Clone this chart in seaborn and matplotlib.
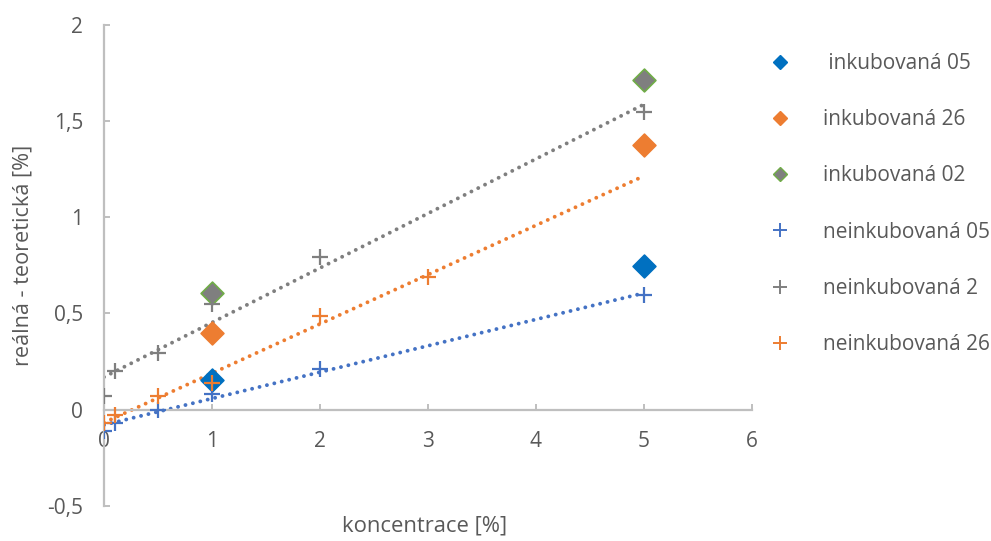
import numpy as np
import pandas as pd
import matplotlib
matplotlib.use("Agg")
import matplotlib.pyplot as plt
from matplotlib.lines import Line2D
import seaborn as sns

# ---- data ----
inc05_x = [1, 5]
inc05_y = [0.155, 0.745]
inc26_x = [1, 5]
inc26_y = [0.40, 1.375]
inc02_x = [1, 5]
inc02_y = [0.605, 1.715]

ninc05_x = [0, 0.1, 0.5, 1, 2, 5]
ninc05_y = [-0.11, -0.07, 0.0, 0.08, 0.21, 0.595]
ninc2_x = [0, 0.1, 0.5, 1, 2, 5]
ninc2_y = [0.07, 0.20, 0.295, 0.55, 0.795, 1.545]
ninc26_x = [0, 0.1, 0.5, 1, 2, 3]
ninc26_y = [-0.07, -0.025, 0.07, 0.14, 0.485, 0.69]

labels = [" inkubovaná 05", "inkubovaná 26", "inkubovaná 02",
          "neinkubovaná 05", "neinkubovaná 2", "neinkubovaná 26"]
x_ticks = [0, 1, 2, 3, 4, 5, 6]
y_ticks = [-0.5, 0, 0.5, 1, 1.5, 2]
y_tick_labels = ["-0,5", "0", "0,5", "1", "1,5", "2"]
x_label = "koncentrace [%]"
y_label = "reálná - teoretická [%]"

BLUE_D = "#0070C0"
ORANGE = "#ED7D31"
GRAY = "#7F7F7F"
GREEN = "#70AD47"
BLUE_P = "#4472C4"
TXT = "#595959"
AX = "#BFBFBF"

sns.set_style("white")
plt.rcParams["font.family"] = ["Open Sans", "DejaVu Sans"]

fig = plt.figure(figsize=(9.91, 5.41), dpi=100)
ax = fig.add_axes([104 / 991, 1 - 506 / 541, (752 - 104) / 991, (506 - 24.7) / 541])

# trend lines (linear fit of the non-incubated series, drawn 0..5)
trend_end = max(max(ninc05_x), max(ninc2_x), max(inc26_x))
for xs, ys, col in [(ninc05_x, ninc05_y, BLUE_P), (ninc26_x, ninc26_y, ORANGE),
                    (ninc2_x, ninc2_y, GRAY)]:
    k, q = np.polyfit(xs, ys, 1)
    tx = np.array([min(xs), trend_end])
    sns.lineplot(x=tx, y=k * tx + q, ax=ax, color=col, lw=2.8,
                 linestyle=(0, (0.01, 1.95)), zorder=2)
for l in ax.lines:
    l.set_dash_capstyle("round")

# incubated: diamonds
for xs, ys, fc, ec in [(inc05_x, inc05_y, BLUE_D, BLUE_D),
                       (inc26_x, inc26_y, ORANGE, ORANGE),
                       (inc02_x, inc02_y, GRAY, GREEN)]:
    sns.scatterplot(x=xs, y=ys, ax=ax, marker="D", s=135, color=fc,
                    edgecolor=ec, linewidth=1.2, zorder=3)

# non-incubated: plus
for xs, ys, col in [(ninc05_x, ninc05_y, BLUE_P), (ninc2_x, ninc2_y, GRAY),
                    (ninc26_x, ninc26_y, ORANGE)]:
    sns.scatterplot(x=xs, y=ys, ax=ax, marker="+", s=130, color=col,
                    linewidth=1.6, zorder=4)

ax.set_xlim(0, 6)
ax.set_ylim(-0.5, 2)
ax.spines["top"].set_visible(False)
ax.spines["right"].set_visible(False)
ax.spines["bottom"].set_position(("data", 0))
for s in ("left", "bottom"):
    ax.spines[s].set_color(AX)
    ax.spines[s].set_linewidth(1.6)

ax.set_xticks(x_ticks)
ax.set_xticklabels([str(v) for v in x_ticks])
ax.set_yticks(y_ticks)
ax.set_yticklabels(y_tick_labels)
ax.tick_params(axis="both", direction="in", length=4.5, width=1.4, color=AX,
               labelcolor=TXT, labelsize=15)
ax.tick_params(axis="x", pad=15.5, bottom=True)
ax.tick_params(axis="y", pad=15, left=True)

ax.set_xlabel(x_label, color=TXT, fontsize=15.8)
ax.set_ylabel(y_label, color=TXT, fontsize=15.6)
ax.xaxis.label.set_va("center")
ax.yaxis.label.set_va("center")
ax.xaxis.set_label_coords((425 - 104) / 648, (506 - 526) / 481.3)
ax.yaxis.set_label_coords((23 - 104) / 648, (506 - 255) / 481.3)

handles = [
    Line2D([], [], ls="none", marker="D", ms=7.5, color=BLUE_D, mec=BLUE_D),
    Line2D([], [], ls="none", marker="D", ms=7.5, color=ORANGE, mec=ORANGE),
    Line2D([], [], ls="none", marker="D", ms=7.5, color=GRAY, mec=GREEN, mew=1.0),
    Line2D([], [], ls="none", marker="+", ms=10, color=BLUE_P, mew=1.4),
    Line2D([], [], ls="none", marker="+", ms=10, color=GRAY, mew=1.4),
    Line2D([], [], ls="none", marker="+", ms=10, color=ORANGE, mew=1.4),
]
leg = fig.legend(handles, labels, loc="upper left",
                 bbox_to_anchor=(769.5 / 991, 1 - 53 / 541), frameon=False,
                 fontsize=15, handlelength=1.0, handletextpad=1.55,
                 labelspacing=1.69, borderpad=0, borderaxespad=0)
for t in leg.get_texts():
    t.set_color(TXT)

fig.savefig("out.png", dpi=100)
